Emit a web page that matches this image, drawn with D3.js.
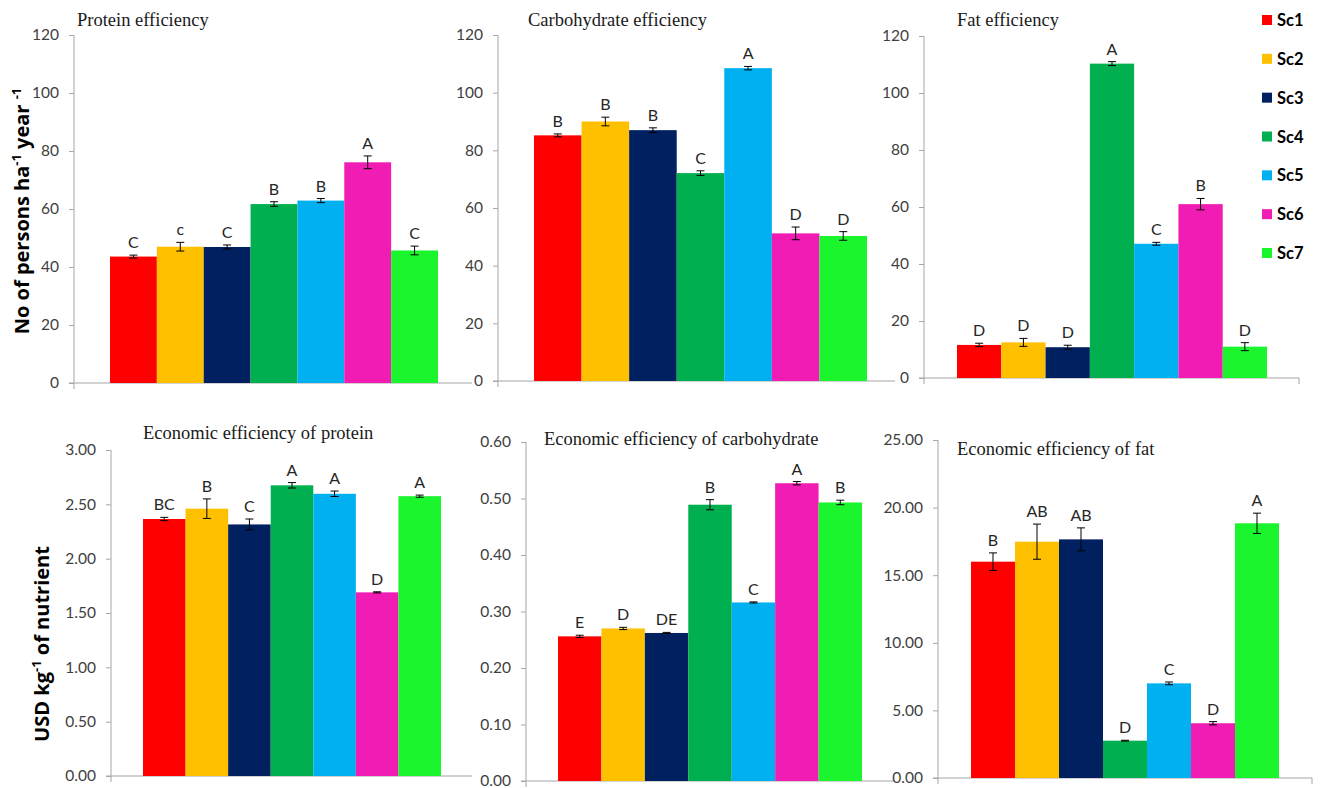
<!DOCTYPE html>
<html>
<head>
<meta charset="utf-8">
<script src="https://cdn.jsdelivr.net/npm/d3@7"></script>
<style>
  html, body { margin: 0; padding: 0; background: #fff; }
  svg { display: block; }
</style>
</head>
<body>
<svg id="chart" width="1320" height="788"></svg>
<script>
// ---------------- DATA ----------------
const scenarios = ["Sc1", "Sc2", "Sc3", "Sc4", "Sc5", "Sc6", "Sc7"];
const colors = ["#FF0000", "#FFC000", "#002060", "#00B050", "#00B0F0", "#F01CB4", "#1AF52E"];

const panelTitles = [
  "Protein efficiency", "Carbohydrate efficiency", "Fat efficiency",
  "Economic efficiency of protein", "Economic efficiency of carbohydrate", "Economic efficiency of fat"
];

const proteinEff      = [43.6, 47.0, 46.9, 61.7, 62.9, 76.1, 45.7];
const proteinEffErr   = [0.5, 1.5, 0.7, 0.8, 0.7, 2.2, 1.5];
const proteinEffLbl   = ["C", "c", "C", "B", "B", "A", "C"];

const carbEff         = [85.2, 90.0, 87.0, 72.1, 108.5, 51.2, 50.3];
const carbEffErr      = [0.5, 1.5, 0.8, 0.8, 0.6, 2.2, 1.5];
const carbEffLbl      = ["B", "B", "B", "C", "A", "D", "D"];

const fatEff          = [11.6, 12.5, 10.8, 110.3, 47.1, 61.0, 11.0];
const fatEffErr       = [0.6, 1.4, 0.7, 0.7, 0.5, 2.0, 1.4];
const fatEffLbl       = ["D", "D", "D", "A", "C", "B", "D"];

const econProtein     = [2.365, 2.46, 2.315, 2.675, 2.597, 1.69, 2.575];
const econProteinErr  = [0.015, 0.09, 0.05, 0.025, 0.025, 0.005, 0.01];
const econProteinLbl  = ["BC", "B", "C", "A", "A", "D", "A"];

const econCarb        = [0.256, 0.270, 0.262, 0.489, 0.316, 0.527, 0.493];
const econCarbErr     = [0.002, 0.002, 0.001, 0.009, 0.001, 0.003, 0.004];
const econCarbLbl     = ["E", "D", "DE", "B", "C", "A", "B"];

const econFat         = [16.0, 17.48, 17.65, 2.76, 7.0, 4.05, 18.84];
const econFatErr      = [0.65, 1.3, 0.85, 0.03, 0.1, 0.12, 0.75];
const econFatLbl      = ["B", "AB", "AB", "D", "C", "D", "A"];

const ticksTop        = [0, 20, 40, 60, 80, 100, 120];
const ticksEconProt   = [0, 0.5, 1.0, 1.5, 2.0, 2.5, 3.0];
const ticksEconCarb   = [0, 0.1, 0.2, 0.3, 0.4, 0.5, 0.6];
const ticksEconFat    = [0, 5, 10, 15, 20, 25];

const yLabelTop = "No of persons ha";
const yLabelBottom = "USD kg";

// ---------------- LAYOUT ----------------
const panels = [
  { values: proteinEff, errs: proteinEffErr, lbls: proteinEffLbl, ticks: ticksTop, fmt: d3.format("d"),
    ax: 74, yTop: 35, yBot: 383, b0: 110, b1: 438, xEnd: 472, tx: 77, ty: 26, endTick: false },
  { values: carbEff, errs: carbEffErr, lbls: carbEffLbl, ticks: ticksTop, fmt: d3.format("d"),
    ax: 498, yTop: 35, yBot: 381, b0: 534, b1: 867, xEnd: 895, tx: 528, ty: 26, endTick: false },
  { values: fatEff, errs: fatEffErr, lbls: fatEffLbl, ticks: ticksTop, fmt: d3.format("d"),
    ax: 924, yTop: 36, yBot: 378, b0: 957, b1: 1267, xEnd: 1299, tx: 957, ty: 26, endTick: true },
  { values: econProtein, errs: econProteinErr, lbls: econProteinLbl, ticks: ticksEconProt, fmt: d3.format(".2f"),
    ax: 111, yTop: 450, yBot: 776, b0: 143, b1: 441, xEnd: 472, tx: 143, ty: 439, endTick: false },
  { values: econCarb, errs: econCarbErr, lbls: econCarbLbl, ticks: ticksEconCarb, fmt: d3.format(".2f"),
    ax: 526, yTop: 442, yBot: 781, b0: 558, b1: 862, xEnd: 895, tx: 544, ty: 445, endTick: false },
  { values: econFat, errs: econFatErr, lbls: econFatLbl, ticks: ticksEconFat, fmt: d3.format(".2f"),
    ax: 938, yTop: 440, yBot: 778, b0: 971, b1: 1279, xEnd: 1312, tx: 957, ty: 455, endTick: true }
];

const svg = d3.select("#chart");
const axisColor = "#A6A6A6";
const tickFont = "Lato, 'Open Sans', sans-serif";

panels.forEach((p, i) => {
  const g = svg.append("g");
  const yMax = d3.max(p.ticks);
  const y = d3.scaleLinear().domain([0, yMax]).range([p.yBot, p.yTop]);
  const x = d3.scaleBand().domain(scenarios).range([p.b0, p.b1]).padding(0);

  // y axis
  const yAxis = d3.axisLeft(y).tickValues(p.ticks).tickFormat(p.fmt).tickSize(5).tickSizeOuter(0).tickPadding(10);
  const yg = g.append("g").attr("transform", `translate(${p.ax},0)`).call(yAxis);
  yg.select(".domain").attr("stroke", axisColor).attr("d", `M0,${p.yTop}V${p.yBot + 6}`);
  yg.selectAll(".tick line").attr("stroke", axisColor);
  yg.selectAll(".tick text").attr("fill", "#404040").style("font-family", tickFont).style("font-size", "15.5px");

  // x axis line
  const xLine = d3.scaleLinear().domain([0, 1]).range([p.ax - 5, p.xEnd]);
  g.append("line").attr("x1", xLine(0)).attr("x2", xLine(1)).attr("y1", p.yBot).attr("y2", p.yBot)
    .attr("stroke", axisColor).attr("stroke-width", 1.2);
  if (p.endTick) {
    g.append("line").attr("x1", xLine(1)).attr("x2", xLine(1)).attr("y1", p.yBot).attr("y2", p.yBot + 6)
      .attr("stroke", axisColor);
  }

  // bars
  g.selectAll("rect.bar").data(p.values).join("rect").attr("class", "bar")
    .attr("x", (d, j) => x(scenarios[j]))
    .attr("width", x.bandwidth())
    .attr("y", d => y(d))
    .attr("height", d => p.yBot - y(d))
    .attr("fill", (d, j) => colors[j]);

  // error bars
  const eb = g.selectAll("g.err").data(p.values).join("g").attr("class", "err");
  eb.append("line")
    .attr("x1", (d, j) => x(scenarios[j]) + x.bandwidth() / 2)
    .attr("x2", (d, j) => x(scenarios[j]) + x.bandwidth() / 2)
    .attr("y1", (d, j) => y(d - p.errs[j]))
    .attr("y2", (d, j) => y(d + p.errs[j]))
    .attr("stroke", "#000").attr("stroke-width", 1);
  [-1, 1].forEach(s => {
    eb.append("line")
      .attr("x1", (d, j) => x(scenarios[j]) + x.bandwidth() / 2 - 4)
      .attr("x2", (d, j) => x(scenarios[j]) + x.bandwidth() / 2 + 4)
      .attr("y1", (d, j) => y(d + s * p.errs[j]))
      .attr("y2", (d, j) => y(d + s * p.errs[j]))
      .attr("stroke", "#000").attr("stroke-width", 1);
  });

  // letter labels
  g.selectAll("text.lbl").data(p.values).join("text").attr("class", "lbl")
    .attr("x", (d, j) => x(scenarios[j]) + x.bandwidth() / 2)
    .attr("y", (d, j) => y(d + p.errs[j]) - 7)
    .attr("text-anchor", "middle")
    .attr("fill", "#262626")
    .style("font-family", tickFont).style("font-size", "16px")
    .text((d, j) => p.lbls[j]);

  // title
  g.append("text").attr("x", p.tx).attr("y", p.ty)
    .attr("fill", "#1a1a1a")
    .style("font-family", "'Liberation Serif', 'Times New Roman', serif").style("font-size", "18.5px")
    .text(panelTitles[i]);
});

// y axis titles
const yFont = "'Open Sans', Lato, sans-serif";
const yl1 = svg.append("text").attr("transform", "translate(29,211) rotate(-90)")
  .attr("text-anchor", "middle").attr("fill", "#000")
  .style("font-family", yFont).style("font-weight", "bold").style("font-size", "20px");
yl1.append("tspan").text(yLabelTop);
yl1.append("tspan").attr("dy", -8).style("font-size", "13px").text("-1");
yl1.append("tspan").attr("dy", 8).text(" year ");
yl1.append("tspan").attr("dy", -8).style("font-size", "13px").text("-1");

const yl2 = svg.append("text").attr("transform", "translate(49,644) rotate(-90)")
  .attr("text-anchor", "middle").attr("fill", "#000")
  .style("font-family", yFont).style("font-weight", "bold").style("font-size", "20px");
yl2.append("tspan").text(yLabelBottom);
yl2.append("tspan").attr("dy", -8).style("font-size", "13px").text("-1");
yl2.append("tspan").attr("dy", 8).text(" of nutrient");

// legend
const legY = d3.scalePoint().domain(scenarios).range([20, 253]);
const leg = svg.selectAll("g.leg").data(scenarios).join("g").attr("class", "leg")
  .attr("transform", d => `translate(1262,${legY(d)})`);
leg.append("rect").attr("x", 0).attr("y", -5).attr("width", 10).attr("height", 10)
  .attr("fill", (d, j) => colors[j]);
leg.append("text").attr("x", 15).attr("y", 6).attr("fill", "#000")
  .style("font-family", tickFont).style("font-weight", "bold").style("font-size", "16.5px")
  .text(d => d);
</script>
</body>
</html>
